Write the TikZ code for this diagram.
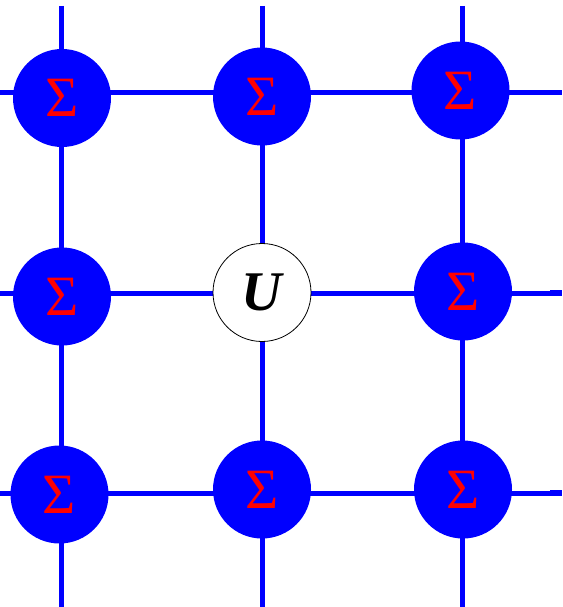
\documentclass[tikz,border=0pt]{standalone}
\usepackage{fontspec}
\newfontfamily\timesfont{Liberation Serif}
\definecolor{pureblue}{RGB}{0,0,255}
\definecolor{purered}{RGB}{255,0,0}
\begin{document}
\begin{tikzpicture}[x=1pt,y=-1pt,
  wire/.style={draw=pureblue,line width=5pt},
  wireend/.style={draw=pureblue,line width=6.5pt},
  sigma/.style={circle,fill=pureblue,minimum size=98pt,inner sep=0pt,
    text=purered,font=\timesfont\fontsize{57}{57}\selectfont},
  unode/.style={circle,draw=black,line width=0.8pt,fill=white,minimum size=98pt,inner sep=0pt,
    font=\timesfont\fontsize{56}{56}\selectfont\bfseries\itshape}]
\useasboundingbox (0,0) rectangle (562,607);
% grid end points
\foreach \x/\n in {61/a,262/b,462/c}{
  \coordinate (t\n) at (\x,6);
  \coordinate (b\n) at (\x,607);
}
\foreach \y/\n in {93/1,293/2,493/3}{
  \coordinate (l\n) at (0,\y);
  \coordinate (r\n) at (562,\y);
}
\coordinate (e2) at (550,293);
\coordinate (e3) at (550,493);
\draw[wire] (ta) -- (ba);
\draw[wire] (tb) -- (bb);
\draw[wire] (tc) -- (bc);
\draw[wire] (l1) -- (r1);
\draw[wire] (l2) -- (r2);
\draw[wire] (l3) -- (r3);
\draw[wireend] (e2) -- (r2);
\draw[wireend] (e3) -- (r3);
% nodes
\node[sigma] (s11) at (62,98) {\raisebox{-2pt}{Σ}};
\node[sigma] (s12) at (262,96.5) {\raisebox{-2pt}{Σ}};
\node[sigma] (s13) at (460.5,90.5) {\raisebox{-2pt}{Σ}};
\node[sigma] (s21) at (62,296.5) {\raisebox{-2pt}{Σ}};
\node[unode] (u) at (262,292.5) {\raisebox{-4pt}{U}};
\node[sigma] (s23) at (463,291.5) {\raisebox{-2pt}{Σ}};
\node[sigma] (s31) at (59.5,494.5) {\raisebox{-2pt}{Σ}};
\node[sigma] (s32) at (262,489.5) {\raisebox{-2pt}{Σ}};
\node[sigma] (s33) at (463,489.5) {\raisebox{-2pt}{Σ}};
\end{tikzpicture}
\end{document}
